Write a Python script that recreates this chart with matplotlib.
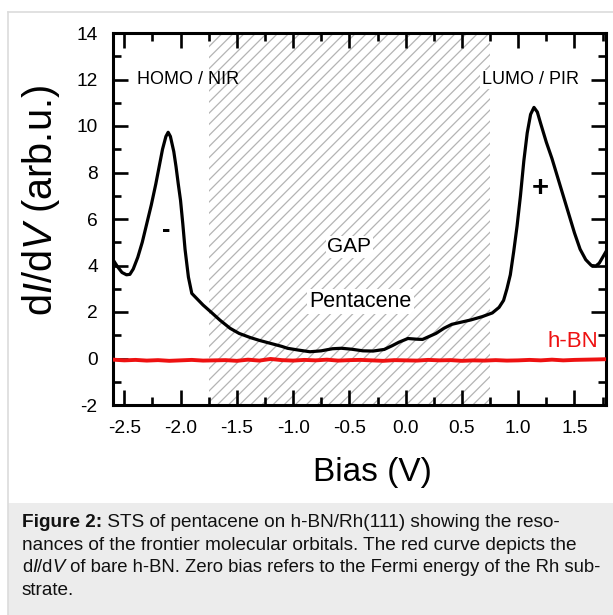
import matplotlib
matplotlib.use("Agg")
import matplotlib.pyplot as plt
from matplotlib.patches import Rectangle
from matplotlib.lines import Line2D
from matplotlib.ticker import MultipleLocator

plt.rcParams['font.family'] = ['Liberation Sans', 'DejaVu Sans']
plt.rcParams['mathtext.fontset'] = 'custom'
plt.rcParams['mathtext.rm'] = 'Liberation Sans'
plt.rcParams['mathtext.it'] = 'Liberation Sans:italic'
plt.rcParams['mathtext.bf'] = 'Liberation Sans:bold'
plt.rcParams['hatch.color'] = '#b4b4b4'
plt.rcParams['hatch.linewidth'] = 0.9

# ---- data ----
pent_bias = [-2.60, -2.56, -2.52, -2.48, -2.45, -2.42, -2.38, -2.34, -2.30, -2.26,
             -2.22, -2.19, -2.16, -2.13, -2.11, -2.09, -2.06, -2.04, -2.02, -2.00,
             -1.98, -1.96, -1.93, -1.90, -1.85, -1.80, -1.73, -1.65, -1.56, -1.48,
             -1.38, -1.30, -1.20, -1.10, -1.05, -0.95, -0.85, -0.75, -0.65, -0.57,
             -0.48, -0.38, -0.29, -0.19, -0.12, -0.06, 0.02, 0.10, 0.15, 0.21,
             0.27, 0.34, 0.41, 0.50, 0.58, 0.68, 0.77, 0.83, 0.87, 0.90,
             0.93, 0.96, 0.99, 1.02, 1.05, 1.08, 1.11, 1.14, 1.17, 1.20,
             1.25, 1.30, 1.35, 1.40, 1.45, 1.50, 1.55, 1.60, 1.65, 1.69,
             1.72, 1.75, 1.78]
pent_didv = [4.25, 3.95, 3.70, 3.60, 3.62, 3.85, 4.35, 5.00, 5.80, 6.60,
             7.50, 8.25, 9.00, 9.55, 9.73, 9.55, 8.90, 8.25, 7.50, 6.80,
             5.80, 4.70, 3.50, 2.80, 2.55, 2.30, 2.00, 1.65, 1.30, 1.08,
             0.90, 0.78, 0.65, 0.52, 0.44, 0.36, 0.29, 0.33, 0.42, 0.44,
             0.40, 0.33, 0.32, 0.39, 0.55, 0.70, 0.86, 0.83, 0.82, 0.95,
             1.08, 1.30, 1.47, 1.57, 1.66, 1.80, 1.96, 2.20, 2.50, 3.00,
             3.60, 4.60, 5.70, 7.00, 8.50, 9.70, 10.50, 10.80, 10.60, 10.10,
             9.30, 8.60, 7.80, 7.00, 6.20, 5.40, 4.70, 4.25, 4.00, 3.98,
             4.10, 4.35, 4.60]

hbn_bias = [-2.60, -2.50, -2.40, -2.30, -2.20, -2.10, -2.00, -1.90, -1.80, -1.70,
            -1.60, -1.50, -1.40, -1.30, -1.20, -1.10, -1.00, -0.90, -0.80, -0.70,
            -0.60, -0.50, -0.40, -0.30, -0.20, -0.10, 0.00, 0.10, 0.20, 0.30,
            0.40, 0.50, 0.60, 0.70, 0.80, 0.90, 1.00, 1.10, 1.20, 1.30,
            1.40, 1.50, 1.60, 1.70, 1.78]
hbn_didv = [-0.05, -0.08, -0.06, -0.09, -0.07, -0.10, -0.08, -0.06, -0.09, -0.08,
            -0.07, -0.10, -0.05, -0.09, -0.02, -0.07, -0.09, -0.06, -0.08, -0.05,
            -0.09, -0.07, -0.06, -0.08, -0.10, -0.07, -0.08, -0.09, -0.06, -0.08,
            -0.07, -0.10, -0.08, -0.09, -0.07, -0.09, -0.08, -0.06, -0.08, -0.05,
            -0.08, -0.06, -0.05, -0.04, -0.03]

gap_range = (-1.75, 0.75)
x_ticks = [-2.5, -2.0, -1.5, -1.0, -0.5, 0.0, 0.5, 1.0, 1.5]
y_ticks = [-2, 0, 2, 4, 6, 8, 10, 12, 14]

# caption: each line is a list of (text, style) pieces
caption_lines = [
    [("Figure 2:", "bold"), (" STS of pentacene on h-BN/Rh(111) showing the reso-", "normal")],
    [("nances of the frontier molecular orbitals. The red curve depicts the", "normal")],
    [("d", "normal"), ("I", "italic"), ("/d", "normal"), ("V", "italic"),
     (" of bare h-BN. Zero bias refers to the Fermi energy of the Rh sub-", "normal")],
    [("strate.", "normal")],
]

# ---- figure ----
W, H = 613, 615
fig = plt.figure(figsize=(W / 100, H / 100), dpi=100)
fig.patch.set_facecolor('white')

# outer frame and caption background
fig.add_artist(Rectangle((8 / W, 0), 1 - 8 / W, (H - 503) / H, transform=fig.transFigure,
                         facecolor='#ececec', edgecolor='none', zorder=0))
fig.add_artist(Line2D([7.5 / W, 7.5 / W], [0, 1 - 11.5 / H], transform=fig.transFigure,
                      color='#dcdcdc', lw=1.2, zorder=1))
fig.add_artist(Line2D([7.5 / W, 1], [1 - 11.5 / H, 1 - 11.5 / H], transform=fig.transFigure,
                      color='#dcdcdc', lw=1.2, zorder=1))

ax_l, ax_r, ax_t, ax_b = 113, 606, 33, 405
ax = fig.add_axes([ax_l / W, 1 - ax_b / H, (ax_r - ax_l) / W, (ax_b - ax_t) / H])

ax.set_xlim(-2.6, 1.78)
ax.set_ylim(-2, 14)

ax.axvspan(gap_range[0], gap_range[1], facecolor='none', edgecolor='#b4b4b4',
           hatch='///', linewidth=0, zorder=0)

ax.plot(hbn_bias, hbn_didv, color='#ee1111', lw=2.8, zorder=3)
ax.plot(pent_bias, pent_didv, color='black', lw=2.3, zorder=4, solid_joinstyle='round')

ax.set_xticks(x_ticks)
ax.set_xticklabels([f"{v:.1f}" for v in x_ticks])
ax.set_yticks(y_ticks)
ax.set_yticklabels([str(v) for v in y_ticks])
ax.xaxis.set_minor_locator(MultipleLocator(0.25))
ax.yaxis.set_minor_locator(MultipleLocator(1))
ax.tick_params(which='both', direction='in', top=True, right=True, colors='black')
ax.tick_params(which='major', length=11, width=1.9, labelsize=13.8, pad=11)
ax.tick_params(which='minor', length=6, width=1.9)
for s in ax.spines.values():
    s.set_linewidth(2.2)

fs_ann = 13
ax.text(-2.39, 12, "HOMO / NIR", fontsize=fs_ann, ha='left', va='center', zorder=5)
ax.text(1.107, 12, "LUMO / PIR", fontsize=fs_ann, ha='center', va='center', zorder=5,
        bbox=dict(facecolor='white', edgecolor='none', pad=1))
ax.text(-2.13, 5.53, "-", fontsize=18, ha='center', va='center', zorder=5, weight='bold')
ax.text(1.20, 7.33, "+", fontsize=21, ha='center', va='center', zorder=5, weight='bold')
ax.text(-0.50, 4.81, "GAP", fontsize=15, ha='center', va='center', zorder=5,
        bbox=dict(facecolor='white', edgecolor='none', pad=1))
ax.text(-0.40, 2.44, "Pentacene", fontsize=15.5, ha='center', va='center', zorder=5,
        bbox=dict(facecolor='white', edgecolor='none', pad=1.5))
ax.text(1.49, 0.72, "h-BN", fontsize=16, ha='center', va='center', color='#ee1111', zorder=5)

fig.text(372 / W, 1 - 472 / H, "Bias (V)", fontsize=24, ha='center', va='center')
fig.text(41 / W, 1 - 201 / H, r"d$\mathit{I}$/d$\mathit{V}$ (arb.u.)", fontsize=28.5,
         ha='center', va='center', rotation=90)

cap_fs = 13.7
cap_x = 22
cap_max_right = 598
fig.canvas.draw()
renderer = fig.canvas.get_renderer()


def draw_line(pieces, y, fs):
    x = cap_x
    arts = []
    for txt, style in pieces:
        kw = dict(fontsize=fs, ha='left', va='baseline', color='#111111')
        if style == 'bold':
            kw['weight'] = 'bold'
        elif style == 'italic':
            kw['style'] = 'italic'
        t = fig.text(x / W, y, txt, **kw)
        arts.append(t)
        x = t.get_window_extent(renderer=renderer).x1
    return x, arts


for i, pieces in enumerate(caption_lines):
    y = 1 - (527 + 22.7 * i) / H
    end, arts = draw_line(pieces, y, cap_fs)
    if end > cap_max_right:
        for a in arts:
            a.remove()
        draw_line(pieces, y, cap_fs * (cap_max_right - cap_x) / (end - cap_x))

fig.savefig("out.png", dpi=100, facecolor=fig.get_facecolor())
